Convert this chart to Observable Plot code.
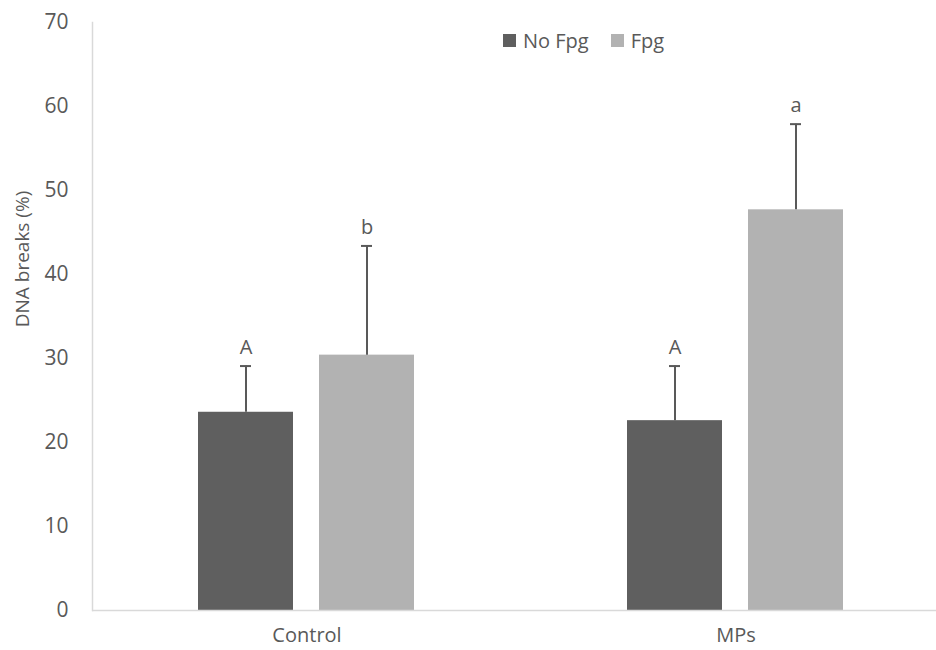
<!DOCTYPE html>
<html>
<head>
<meta charset="utf-8">
<script src="https://cdn.jsdelivr.net/npm/d3@7"></script>
<script src="https://cdn.jsdelivr.net/npm/@observablehq/plot@0.6"></script>
<style>
  html, body { margin: 0; padding: 0; background: #fff; overflow: hidden; }
  #wrap { position: relative; width: 936px; height: 650px; overflow: hidden; font-family: "Open Sans", sans-serif; color: #595959; }
  #wrap svg { max-width: none !important; display: block; }
  .legend { position: absolute; left: 503px; top: 27px; display: flex; align-items: center; font-size: 20px; }
  .legend .sw { width: 13px; height: 13px; display: inline-block; margin-right: 7px; }
  .legend .item { display: flex; align-items: center; margin-right: 22px; }
  .ytitle { position: absolute; left: 22px; top: 259px; transform: translate(-50%, -50%) rotate(-90deg); white-space: nowrap; font-size: 19px; }
</style>
</head>
<body>
<div id="wrap"></div>
<script>
const categories = ["Control", "MPs"];
const series = ["No Fpg", "Fpg"];
const noFpgMeans = [23.6, 22.6];
const fpgMeans = [30.4, 47.7];
const noFpgErr = [5.5, 6.5];
const fpgErr = [13.0, 10.2];
const noFpgLetters = ["A", "A"];
const fpgLetters = ["b", "a"];
const yTicks = [0, 10, 20, 30, 40, 50, 60, 70];
const colors = ["#5f5f5f", "#b2b2b2"];

const data = [];
categories.forEach((c, i) => {
  data.push({category: c, series: series[0], value: noFpgMeans[i], err: noFpgErr[i], letter: noFpgLetters[i]});
  data.push({category: c, series: series[1], value: fpgMeans[i], err: fpgErr[i], letter: fpgLetters[i]});
});

const txt = "#595959";
const chart = Plot.plot({
  width: 950,
  height: 650,
  marginLeft: 92,
  marginRight: 0,
  marginTop: 22,
  marginBottom: 40,
  style: {fontFamily: "Open Sans, sans-serif", fontSize: "20px", color: txt, background: "#fff", overflow: "hidden"},
  fx: {domain: categories, padding: 0, label: null},
  x: {domain: series, paddingInner: 0.2131, paddingOuter: 0.8648, axis: null},
  y: {domain: [0, 70], label: null},
  color: {domain: series, range: colors},
  marks: [
    Plot.axisY({ticks: yTicks, tickSize: 0, tickPadding: 24, label: null, fontSize: 21, fill: txt}),
    Plot.axisFx({anchor: "bottom", tickSize: 0, tickPadding: 17, label: null, fontSize: 20, fill: txt}),
    Plot.barY(data, {fx: "category", x: "series", y: "value", fill: "series"}),
    Plot.ruleY([0], {stroke: "#d9d9d9", strokeWidth: 1.5}),
    Plot.frame({anchor: "left", stroke: "#d9d9d9", strokeWidth: 1.5, facetAnchor: "left"}),
    Plot.ruleX(data, {fx: "category", x: "series", y1: "value", y2: d => d.value + d.err, stroke: "#595959", strokeWidth: 2}),
    Plot.tickY(data, {fx: "category", x: "series", y: d => d.value + d.err, stroke: "#595959", strokeWidth: 2, insetLeft: 42, insetRight: 42}),
    Plot.text(data, {fx: "category", x: "series", y: d => d.value + d.err, text: "letter", dy: -12, lineAnchor: "bottom", fontSize: 20, fill: txt})
  ]
});

const wrap = document.getElementById("wrap");
wrap.appendChild(chart);

const legend = document.createElement("div");
legend.className = "legend";
series.forEach((s, i) => {
  const item = document.createElement("div");
  item.className = "item";
  const sw = document.createElement("span");
  sw.className = "sw";
  sw.style.background = colors[i];
  item.appendChild(sw);
  item.appendChild(document.createTextNode(s));
  legend.appendChild(item);
});
wrap.appendChild(legend);

const yt = document.createElement("div");
yt.className = "ytitle";
yt.textContent = "DNA breaks (%)";
wrap.appendChild(yt);
</script>
</body>
</html>
